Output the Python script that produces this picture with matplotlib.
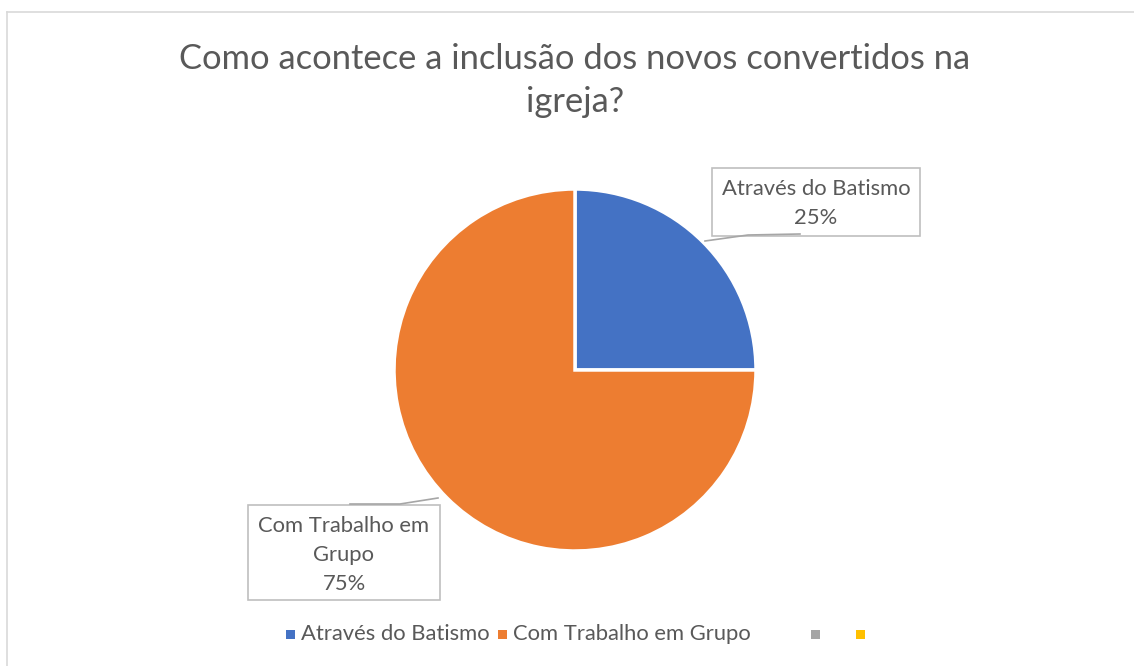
import matplotlib
matplotlib.use("Agg")
import matplotlib.pyplot as plt
from matplotlib.patches import Rectangle
from matplotlib.lines import Line2D

title = "Como acontece a inclusão dos novos convertidos na\nigreja?"
categories = ["Através do Batismo", "Com Trabalho em Grupo", "", ""]
values = [25, 75, 0, 0]
colors = ["#4472C4", "#ED7D31", "#A5A5A5", "#FFC000"]

W, H = 1134, 666
plt.rcParams['font.family'] = ['Lato', 'DejaVu Sans']
fig = plt.figure(figsize=(W / 100, H / 100), dpi=100)
TXT = "#595959"

def fx(x):
    return x / W

def fy(y):
    return 1 - y / H

# border of chart area
fig.add_artist(Line2D([fx(7), fx(7)], [fy(12), 0], color="#D9D9D9", lw=1.2))
fig.add_artist(Line2D([fx(7), 1], [fy(12), fy(12)], color="#D9D9D9", lw=1.2))

for i, line in enumerate(title.split("\n")):
    fig.text(fx(575), fy(59 + 43 * i), line, ha="center", va="center",
             fontsize=24.8, color=TXT)

cx, cy, r = 575, 370, 181
ax = fig.add_axes([fx(cx - r), fy(cy + r), 2 * r / W, 2 * r / H])
wedges, _ = ax.pie(values[:2], colors=colors[:2], startangle=90, counterclock=False,
                   wedgeprops=dict(edgecolor="white", linewidth=2.5))
ax.set_xlim(-1, 1)
ax.set_ylim(-1, 1)
ax.set_aspect("equal")
ax.axis("off")

# data label callouts
def callout(x0, y0, x1, y1, lines, pts, ty0):
    fig.add_artist(Rectangle((fx(x0), fy(y1)), (x1 - x0) / W, (y1 - y0) / H,
                             facecolor="white", edgecolor="#BFBFBF", lw=1.2,
                             transform=fig.transFigure))
    for i, line in enumerate(lines):
        fig.text(fx((x0 + x1) / 2), fy(ty0 + 29 * i), line, ha="center", va="center",
                 fontsize=15.8, color=TXT)
    xs, ys = zip(*pts)
    fig.add_artist(Line2D([fx(x) for x in xs], [fy(y) for y in ys], color="#A6A6A6", lw=1.2))

callout(712, 168, 920, 236, [categories[0], f"{values[0]}%"],
        [(705, 241), (748, 235), (800, 234)], 189)
callout(248, 505, 440, 600, ["Com Trabalho em", "Grupo", f"{values[1]}%"],
        [(438, 498), (400, 504), (350, 504)], 526)

# legend
leg_sq_x = [286, 498, 811, 856]
leg_y = 634
for i, (name, c) in enumerate(zip(categories, colors)):
    sx = leg_sq_x[i]
    fig.add_artist(Rectangle((fx(sx), fy(leg_y + 4.5)), 9 / W, 9 / H, facecolor=c,
                             edgecolor="none", transform=fig.transFigure))
    if name:
        fig.text(fx(sx + 15), fy(leg_y), name, ha="left", va="center",
                 fontsize=15.8, color=TXT)

fig.savefig("out.png", dpi=100)
